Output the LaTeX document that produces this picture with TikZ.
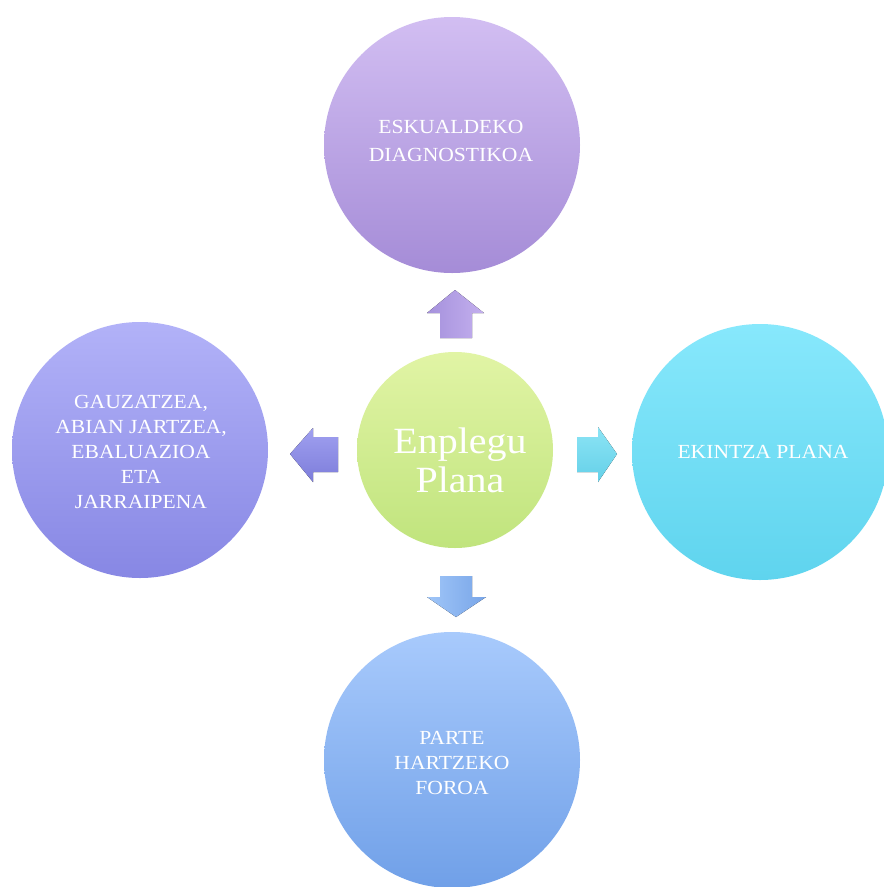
\documentclass[tikz,border=0pt]{standalone}
\usepackage{fontspec}
\setmainfont{Liberation Serif}[FakeStretch=1.08]
\usetikzlibrary{shadings}
\definecolor{topA}{RGB}{210,190,242}\definecolor{topB}{RGB}{165,140,215}
\definecolor{lefA}{RGB}{178,178,248}\definecolor{lefB}{RGB}{135,135,228}
\definecolor{rigA}{RGB}{135,232,252}\definecolor{rigB}{RGB}{95,212,238}
\definecolor{botA}{RGB}{168,202,252}\definecolor{botB}{RGB}{112,160,232}
\definecolor{cenA}{RGB}{225,244,165}\definecolor{cenB}{RGB}{192,228,125}
\tikzset{
  bigcircle/.style={circle, minimum size=256pt, inner sep=0pt, draw=none},
  midcircle/.style={circle, minimum size=196pt, inner sep=0pt, draw=none},
  lbl/.style={text=white, font=\fontsize{20}{25}\selectfont, align=center, inner sep=0pt},
}
\begin{document}
\begin{tikzpicture}[x=1pt,y=-1pt]
\useasboundingbox (0,0) rectangle (884,887);
\fill[white] (0,0) rectangle (884,887);
\node[bigcircle, top color=topA, bottom color=topB] (diag) at (452,145) {};
\node[bigcircle, top color=lefA, bottom color=lefB] (gauz) at (140,450) {};
\node[bigcircle, top color=rigA, bottom color=rigB] (ekin) at (760,452) {};
\node[bigcircle, top color=botA, bottom color=botB] (part) at (452,760) {};
\node[midcircle, top color=cenA, bottom color=cenB] (plan) at (455,450) {};
\node[lbl, font=\fontsize{20}{28}\selectfont] (tdiag) at (451,141) {ESKUALDEKO\\DIAGNOSTIKOA};
\node[lbl] (tgauz) at (141,452) {GAUZATZEA,\\ABIAN JARTZEA,\\EBALUAZIOA\\ETA\\JARRAIPENA};
\node[lbl] (tekin) at (763,452) {EKINTZA PLANA};
\node[lbl] (tpart) at (452,763) {PARTE\\HARTZEKO\\FOROA};
\node[lbl, font=\fontsize{37}{39}\selectfont] (tplan) at (460,460) {Enplegu\\Plana};
% arrows
\fill[left color={rgb,255:red,165;green,145;blue,220}, right color={rgb,255:red,195;green,175;blue,238}]
  (455,290) -- (484,313) -- (472,313) -- (472,338) -- (440,338) -- (440,313) -- (427,313) -- cycle;
\fill[top color={rgb,255:red,160;green,160;blue,240}, bottom color={rgb,255:red,125;green,125;blue,218}]
  (290,454) -- (313,428) -- (313,437) -- (338,437) -- (338,472) -- (313,472) -- (313,482) -- cycle;
\fill[top color={rgb,255:red,140;green,228;blue,245}, bottom color={rgb,255:red,100;green,208;blue,232}]
  (617,454) -- (598,427) -- (598,437) -- (577,437) -- (577,472) -- (598,472) -- (598,482) -- cycle;
\fill[left color={rgb,255:red,160;green,198;blue,248}, right color={rgb,255:red,120;green,165;blue,232}]
  (456,617) -- (486,597) -- (472,597) -- (472,576) -- (440,576) -- (440,597) -- (427,597) -- cycle;
\end{tikzpicture}
\end{document}
